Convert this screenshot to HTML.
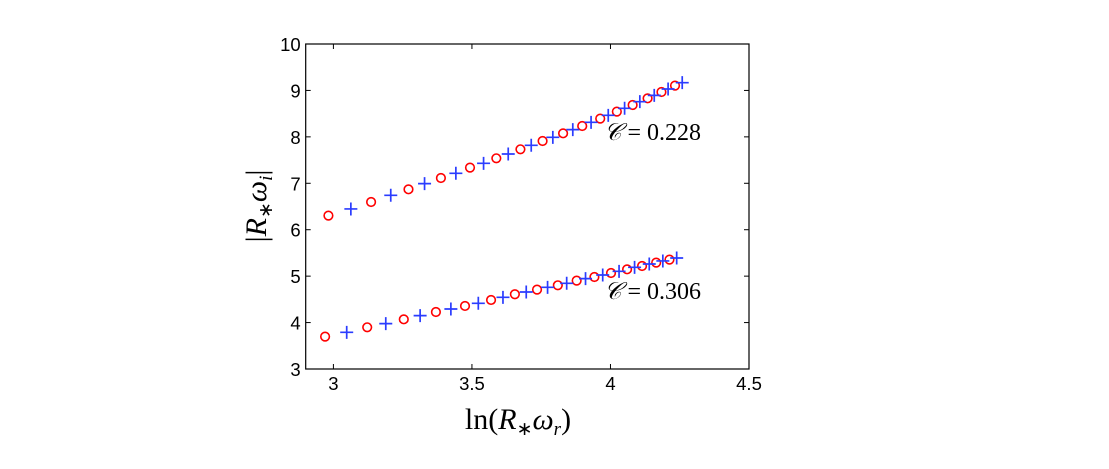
<!DOCTYPE html>
<html><head><meta charset="utf-8"><style>
html,body{margin:0;padding:0;background:#fff;width:1109px;height:469px;overflow:hidden}
svg text{font-family:"Liberation Sans",sans-serif}
.m{font-family:"Liberation Serif",serif}
</style></head><body>
<svg id="chart" width="1109" height="469">
<g id="axes"></g>
<g id="marks"></g>
<text class="m" x="604" y="140" font-size="24"><tspan font-style="italic" font-family="DejaVu Serif,serif">𝒞</tspan> = 0.228</text>
<text class="m" x="604" y="299" font-size="24"><tspan font-style="italic" font-family="DejaVu Serif,serif">𝒞</tspan> = 0.306</text>
<text class="m" x="518" y="429" font-size="30" text-anchor="middle">ln(<tspan font-style="italic">R</tspan><tspan font-size="19" dy="6">∗</tspan><tspan font-style="italic" dy="-6">ω</tspan><tspan font-style="italic" font-size="19" dy="6">r</tspan><tspan dy="-6">)</tspan></text>
<text class="m" transform="translate(266,206) rotate(-90)" font-size="30" text-anchor="middle">|<tspan font-style="italic">R</tspan><tspan font-size="19" dy="6">∗</tspan><tspan font-style="italic" dy="-6">ω</tspan><tspan font-style="italic" font-size="19" dy="6">i</tspan><tspan dy="-6">|</tspan></text>
</svg>
<script>
const xTicks=[3,3.5,4,4.5];
const xTickLabels=["3","3.5","4","4.5"];
const yTicks=[3,4,5,6,7,8,9,10];
const yTickLabels=["3","4","5","6","7","8","9","10"];
const upperCircleX=[2.982,3.136,3.271,3.388,3.493,3.588,3.675,3.755,3.829,3.898,3.963,4.023,4.080,4.134,4.184,4.233];
const upperCircleY=[6.303,6.597,6.870,7.114,7.337,7.538,7.732,7.911,8.076,8.234,8.392,8.543,8.686,8.830,8.966,9.103];
const upperPlusX=[3.063,3.207,3.329,3.442,3.542,3.631,3.714,3.792,3.864,3.930,3.992,4.051,4.106,4.158,4.208,4.259];
const upperPlusY=[6.447,6.741,6.992,7.215,7.430,7.631,7.818,7.990,8.155,8.313,8.464,8.615,8.758,8.894,9.031,9.167];
const lowerCircleX=[2.970,3.122,3.254,3.370,3.475,3.569,3.655,3.735,3.810,3.878,3.942,4.002,4.060,4.114,4.165,4.213];
const lowerCircleY=[3.697,3.898,4.070,4.228,4.358,4.487,4.610,4.709,4.803,4.903,4.982,5.068,5.147,5.219,5.291,5.355];
const lowerPlusX=[3.048,3.189,3.313,3.424,3.523,3.612,3.696,3.773,3.842,3.910,3.972,4.031,4.087,4.140,4.189,4.239];
const lowerPlusY=[3.790,3.977,4.149,4.293,4.415,4.544,4.659,4.759,4.846,4.946,5.025,5.104,5.190,5.262,5.327,5.391];

const L=305.7,R=749,T=44,B=369,X0=2.9,X1=4.5,Y0=3,Y1=10;
const sx=v=>L+(v-X0)/(X1-X0)*(R-L);
const sy=v=>B-(v-Y0)/(Y1-Y0)*(B-T);
const NS="http://www.w3.org/2000/svg";
function mk(tag,at,parent){const e=document.createElementNS(NS,tag);for(const k in at)e.setAttribute(k,at[k]);parent.appendChild(e);return e;}
const ax=document.getElementById('axes'),mg=document.getElementById('marks');
let f=mk('rect',{x:L,y:T,width:R-L,height:B-T,fill:'none',stroke:'#000','stroke-width':1.2},ax);


xTicks.forEach((v,i)=>{const x=sx(v);
 mk('line',{x1:x,x2:x,y1:B,y2:B-5,stroke:'#000'},ax);
 mk('line',{x1:x,x2:x,y1:T,y2:T+5,stroke:'#000'},ax);
 const t=mk('text',{x:x,y:B+21,'font-size':18.5,'text-anchor':'middle'},ax);t.textContent=xTickLabels[i];
 
 });
yTicks.forEach((v,i)=>{const y=sy(v);
 mk('line',{x1:L,x2:L+5,y1:y,y2:y,stroke:'#000'},ax);
 mk('line',{x1:R,x2:R-5,y1:y,y2:y,stroke:'#000'},ax);
 const t=mk('text',{x:L-5,y:y+7,'font-size':18.5,'text-anchor':'end'},ax);t.textContent=yTickLabels[i];
 
 });
function circles(xs,ys,name){xs.forEach((v,i)=>{const c=mk('circle',{cx:sx(v),cy:sy(ys[i]),r:4.3,fill:'none',stroke:'#f00','stroke-width':1.6},mg);
 
 });}
function pluses(xs,ys,name){xs.forEach((v,i)=>{const x=sx(v),y=sy(ys[i]);
 const p=mk('path',{d:`M${x-6.5},${y}H${x+6.5}M${x},${y-6.5}V${y+6.5}`,stroke:'#2a3cff','stroke-width':1.7},mg);
 
 });}
circles(upperCircleX,upperCircleY,'upper-circle-point');
pluses(upperPlusX,upperPlusY,'upper-plus-point');
circles(lowerCircleX,lowerCircleY,'lower-circle-point');
pluses(lowerPlusX,lowerPlusY,'lower-plus-point');
</script>
</body></html>
